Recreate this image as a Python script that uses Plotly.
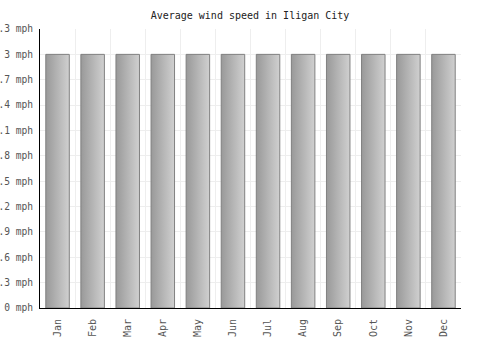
import plotly.graph_objects as go

months = ["Jan", "Feb", "Mar", "Apr", "May", "Jun", "Jul", "Aug", "Sep", "Oct", "Nov", "Dec"]
wind_mph = [3, 3, 3, 3, 3, 3, 3, 3, 3, 3, 3, 3]
y_ticks = [0, 0.3, 0.6, 0.9, 1.2, 1.5, 1.8, 2.1, 2.4, 2.7, 3, 3.3]
y_tick_labels = ["0 mph", "0.3 mph", "0.6 mph", "0.9 mph", "1.2 mph", "1.5 mph",
                 "1.8 mph", "2.1 mph", "2.4 mph", "2.7 mph", "3 mph", "3.3 mph"]

half_w = 0.335
fig = go.Figure()
for i, (m, v) in enumerate(zip(months, wind_mph)):
    fig.add_trace(go.Scatter(
        x=[i - half_w, i + half_w, i + half_w, i - half_w, i - half_w],
        y=[0, 0, v, v, 0],
        mode="lines",
        fill="toself",
        fillgradient=dict(type="horizontal",
                          colorscale=[[0, "#999999"], [1, "#d0d0d0"]]),
        line=dict(color="#808080", width=1),
        name=m,
        hoverinfo="skip",
        showlegend=False,
    ))

font = "DejaVu Sans Mono, monospace"
fig.update_layout(
    width=500, height=350,
    margin=dict(l=40, r=39, t=29, b=42),
    paper_bgcolor="white", plot_bgcolor="white",
    title=dict(text="Average wind speed in Iligan City", x=0.5, xanchor="center",
               y=1 - 15 / 350, yanchor="middle",
               font=dict(family=font, size=10, color="#222222")),
    font=dict(family=font, size=10, color="#555555"),
    xaxis=dict(
        range=[-0.5, 11.5],
        tickvals=list(range(12)), ticktext=months,
        tickangle=-90, automargin=False,
        showgrid=False,
        minor=dict(tickvals=[i + 0.5 for i in range(12)], showgrid=True,
                   gridcolor="#eeeeee", gridwidth=1, ticks=""),
        showline=True, linecolor="#000000", linewidth=1,
        zeroline=False, ticks="", ticklabelstandoff=6,
    ),
    yaxis=dict(
        range=[0, 3.3], automargin=False,
        tickvals=y_ticks, ticktext=y_tick_labels,
        tickfont=dict(size=9.6),
        showgrid=True, gridcolor="#eeeeee", gridwidth=1,
        showline=True, linecolor="#000000", linewidth=1,
        zeroline=False, ticks="", ticklabelstandoff=4,
    ),
)

fig.write_html("out.html")
